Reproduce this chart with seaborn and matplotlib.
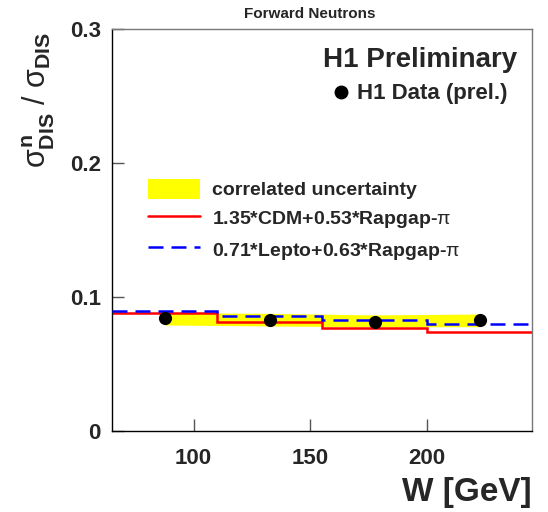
import numpy as np
import pandas as pd
import matplotlib
matplotlib.use("Agg")
import matplotlib.pyplot as plt
import seaborn as sns
from matplotlib.patches import Patch
from matplotlib.lines import Line2D

# ---- data ----
w_data = [87.5, 132.5, 177.5, 222.5]
ratio_data = [0.0846, 0.0828, 0.0813, 0.0826]
band_lo = [0.0791, 0.0784, 0.0778, 0.0778]
band_hi = [0.0883, 0.0878, 0.0866, 0.0873]
bin_edges = [65, 110, 155, 200, 245]
cdm_rap = [0.0883, 0.0811, 0.0771, 0.0737]
lepto_rap = [0.0898, 0.0861, 0.0828, 0.0801]
x_ticks = [100, 150, 200]
y_ticks = [0, 0.1, 0.2, 0.3]
y_ticklabels = ["0", "0.1", "0.2", "0.3"]

sns.set_style("white")
plt.rcParams['font.family'] = ['Liberation Sans', 'DejaVu Sans']
plt.rcParams['mathtext.fontset'] = 'custom'
plt.rcParams['mathtext.rm'] = 'Liberation Sans'
plt.rcParams['mathtext.bf'] = 'Liberation Sans:bold'
plt.rcParams['mathtext.it'] = 'Liberation Sans'

fig = plt.figure(figsize=(5.48, 5.12), dpi=100)
ax = fig.add_axes([0.2044, 0.1582, 0.7664, 0.7852])

df = pd.DataFrame({"W": w_data, "ratio": ratio_data})

ax.fill_between(w_data, band_lo, band_hi, color="#ffff00", lw=0, zorder=1)
ax.stairs(cdm_rap, bin_edges, baseline=None, color="#ff0000", lw=1.8, zorder=2)
ax.stairs(lepto_rap, bin_edges, baseline=None, color="#0000ff", lw=1.8,
          ls=(0, (6, 3.2)), zorder=3)
sns.scatterplot(data=df, x="W", y="ratio", ax=ax, color="black", s=90,
                edgecolor="black", linewidth=0, zorder=4)

ax.set_xlim(65, 245)
ax.set_ylim(0, 0.3)
ax.set_xticks(x_ticks)
ax.set_xticklabels([str(t) for t in x_ticks], fontsize=16, fontweight="bold")
ax.set_yticks(y_ticks)
ax.set_yticklabels(y_ticklabels, fontsize=16, fontweight="bold")
ax.tick_params(bottom=True, left=True, top=False, right=False,
               direction="in", length=8.6, width=1, color="#555555", pad=8)
ax.tick_params(axis="x", pad=12)
ax.set_xlabel("")
ax.set_ylabel("")
for s in ["top", "right"]:
    ax.spines[s].set_color("#777777")
    ax.spines[s].set_linewidth(1)
for s in ["bottom", "left"]:
    ax.spines[s].set_color("black")
    ax.spines[s].set_linewidth(1)

# labels
fig.text(0.971, 0.022, "W [GeV]", ha="right", va="baseline", fontsize=24, fontweight="bold")
fig.text(0.07, 0.805,
         r"$\sigma^{\mathbf{n}}_{\mathbf{DIS}}\ /\ \sigma_{\mathbf{DIS}}$",
         rotation=90, ha="center", va="center", fontsize=22)
fig.text(0.565, 0.972, "Forward Neutrons", ha="center", va="center", fontsize=11, fontweight="bold")
ax.text(0.965, 0.955, "H1 Preliminary", transform=ax.transAxes, ha="right", va="top",
        fontsize=20, fontweight="bold")

# data legend
leg1 = ax.legend(handles=[Line2D([], [], marker="o", color="black", ls="none", markersize=9)],
                 labels=["H1 Data (prel.)"], loc="upper left", bbox_to_anchor=(0.498, 0.887),
                 frameon=False, prop={"size": 16, "weight": "bold"}, handlelength=1.0,
                 handletextpad=0.2, borderaxespad=0)
ax.add_artist(leg1)

handles = [Patch(facecolor="#ffff00", edgecolor="none"),
           Line2D([], [], color="#ff0000", lw=1.8),
           Line2D([], [], color="#0000ff", lw=1.8, ls=(0, (6, 3.2)))]
labels = ["correlated uncertainty", "1.35*CDM+0.53*Rapgap-$\\pi$", "0.71*Lepto+0.63*Rapgap-$\\pi$"]
ax.legend(handles=handles, labels=labels, loc="upper left", bbox_to_anchor=(0.066, 0.647),
          frameon=False, prop={"size": 14, "weight": "bold"}, handlelength=2.7,
          handleheight=1.2, handletextpad=0.6, labelspacing=0.45, borderaxespad=0)

fig.savefig("out.png", dpi=100)
